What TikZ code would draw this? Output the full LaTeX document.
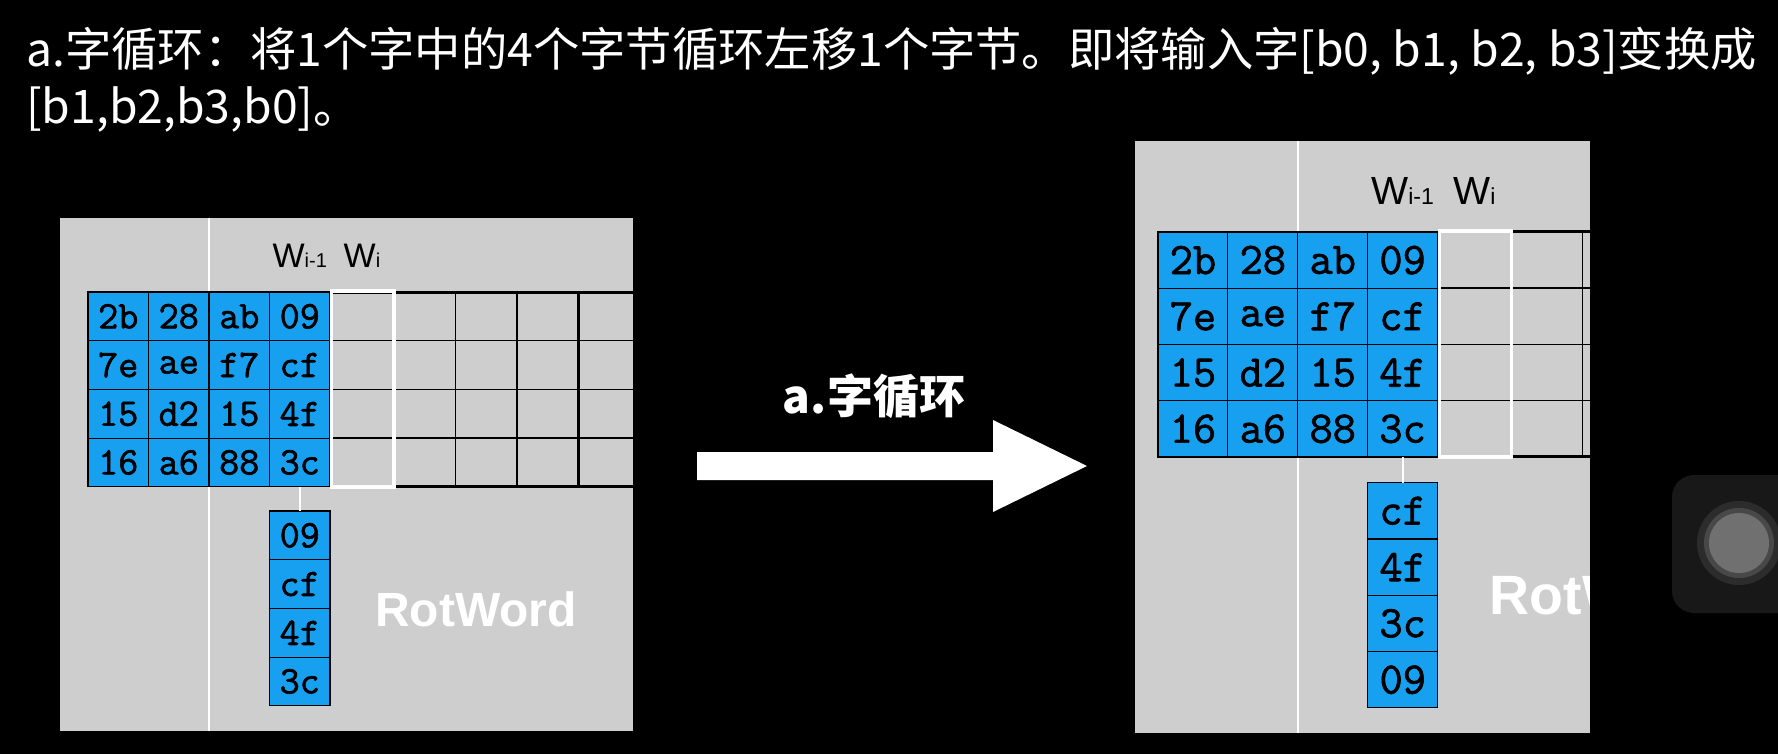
\documentclass[tikz,border=0pt]{standalone}
\usepackage{fontspec}
\newfontfamily\cjk{Noto Sans CJK SC}
\newfontfamily\helv{Liberation Sans}
\newfontfamily\hexfont{Latin Modern Mono}[BoldFont={Latin Modern Mono},BoldFeatures={FakeBold=1.6}]
\usetikzlibrary{positioning}
\definecolor{cellblue}{RGB}{24,160,240}
\definecolor{panelgray}{RGB}{206,206,206}
\definecolor{btndark}{RGB}{24,24,24}
\definecolor{btnring}{RGB}{44,44,44}
\definecolor{btnedge}{RGB}{72,72,72}
\definecolor{btnface}{RGB}{112,112,112}
\tikzset{
	% blue byte cells
	bytebox/.style={draw=black,line width=1.2pt,fill=cellblue,minimum width=60.5pt,minimum height=48.7pt,inner sep=0pt,outer sep=0pt,font=\hexfont\bfseries\fontsize{39}{39}\selectfont},
	% lines of the empty words
	gridline/.style={draw=black,line width=1.5pt},
	thickline/.style={draw=black,line width=3pt},
	wordframe/.style={draw=white,line width=3.5pt},
	wire/.style={draw=white,line width=2pt},
	% texts
	wlabel/.style={anchor=base,inner sep=0pt,font=\helv\fontsize{34}{34}\selectfont},
	rotlabel/.style={anchor=base west,inner sep=0pt,text=white,font=\helv\bfseries\fontsize{48}{48}\selectfont},
	titletext/.style={anchor=base west,inner sep=0pt,text=white,font=\cjk\fontsize{46.3}{46.3}\selectfont},
}

\begin{document}
\begin{tikzpicture}[x=1pt,y=-1pt]
\fill[black] (0,0) rectangle (1778,754);
\useasboundingbox (0,0) rectangle (1778,754);
% the heading
\node[titletext] (title1) at (26,67) {a.字循环：将1个字中的4个字节循环左移1个字节。即将输入字[b0, b1, b2, b3]变换成};
\node[titletext] (title2) at (26,124) {[b1,b2,b3,b0]。};

% left panel: before
\begin{scope}[shift={(88,292)}]
\fill[panelgray] (-28,-74) rectangle (545,439);
\draw[wire] (121,-74) -- (121,439);
% the empty words
\foreach \y in {48.7,97.4,146.1}
  \draw[gridline] (242,\y) -- (545,\y);
\draw[thickline] (242,0) -- (545,0);
\draw[thickline] (242,194.8) -- (545,194.8);
\foreach \x in {367.5,429}
  \draw[gridline] (\x,0) -- (\x,194.8);
\draw[thickline] (490,0) -- (490,194.8);
% the key bytes
\foreach \row [count=\r] in {{2b,28,ab,09},{7e,ae,f7,cf},{15,d2,15,4f},{16,a6,88,3c}}
  \foreach \v [count=\k] in \row
    \node[bytebox] (L-\r-\k) at ({(\k-0.5)*60.5},{(\r-0.5)*48.7}) {\v};
\draw[wordframe] (243.5,-1) rectangle (306,195);
\node[wlabel] (Lwprev) at (211.75,-24) {W{\fontsize{20}{20}\selectfont i-1}};
\node[wlabel] (Lwcur) at (274,-24) {W{\fontsize{20}{20}\selectfont i}};
% the word taken out
\node[bytebox] (Lcol-1) at (211.75,243.35) {09};
\node[bytebox,below=0pt of Lcol-1] (Lcol-2) {cf};
\node[bytebox,below=0pt of Lcol-2] (Lcol-3) {4f};
\node[bytebox,below=0pt of Lcol-3] (Lcol-4) {3c};
\draw[wire] (L-4-4.south) -- (Lcol-1.north);
\node[rotlabel] (Lrot) at (287,334) {RotWord};
\end{scope}

% the step arrow
\fill[white] (697,452) -- (993,452) -- (993,420) -- (1087,466) -- (993,512) -- (993,480) -- (697,480) -- cycle;
\node[anchor=base,inner sep=0pt,text=white,font=\cjk\bfseries\fontsize{46}{46}\selectfont] (steplabel) at (874,413) {a.字循环};

% right panel: after
\begin{scope}[shift={(1158,232)},scale=1.155,transform shape]
\clip (-20,-79) rectangle (374,434);
\fill[panelgray] (-20,-79) rectangle (374,434);
\draw[wire] (121,-79) -- (121,434);
\foreach \y in {48.7,97.4,146.1}
  \draw[gridline] (242,\y) -- (545,\y);
\draw[thickline] (242,0) -- (545,0);
\draw[thickline] (242,194.8) -- (545,194.8);
\foreach \x in {367.5,429}
  \draw[gridline] (\x,0) -- (\x,194.8);
\foreach \row [count=\r] in {{2b,28,ab,09},{7e,ae,f7,cf},{15,d2,15,4f},{16,a6,88,3c}}
  \foreach \v [count=\k] in \row
    \node[bytebox] (R-\r-\k) at ({(\k-0.5)*60.5},{(\r-0.5)*48.7}) {\v};
\draw[wordframe] (243.5,-1) rectangle (306,195);
\node[wlabel] (Rwprev) at (211.75,-24) {W{\fontsize{20}{20}\selectfont i-1}};
\node[wlabel] (Rwcur) at (274,-24) {W{\fontsize{20}{20}\selectfont i}};
% the rotated word
\node[bytebox] (Rcol-1) at (211.75,241.35) {cf};
\node[bytebox,below=0pt of Rcol-1] (Rcol-2) {4f};
\node[bytebox,below=0pt of Rcol-2] (Rcol-3) {3c};
\node[bytebox,below=0pt of Rcol-3] (Rcol-4) {09};
\draw[wire] (R-4-4.south) -- (Rcol-1.north);
\node[rotlabel] (Rrot) at (287,331) {RotWord};
\end{scope}

% the round screen button
\fill[btndark,rounded corners=22pt] (1672,475) rectangle (1800,613);
\fill[btnring] (1739,543) circle (42pt);
\fill[btnedge] (1739,543) circle (35pt);
\fill[btnface] (1739,543) circle (30pt);
\end{tikzpicture}
\end{document}
